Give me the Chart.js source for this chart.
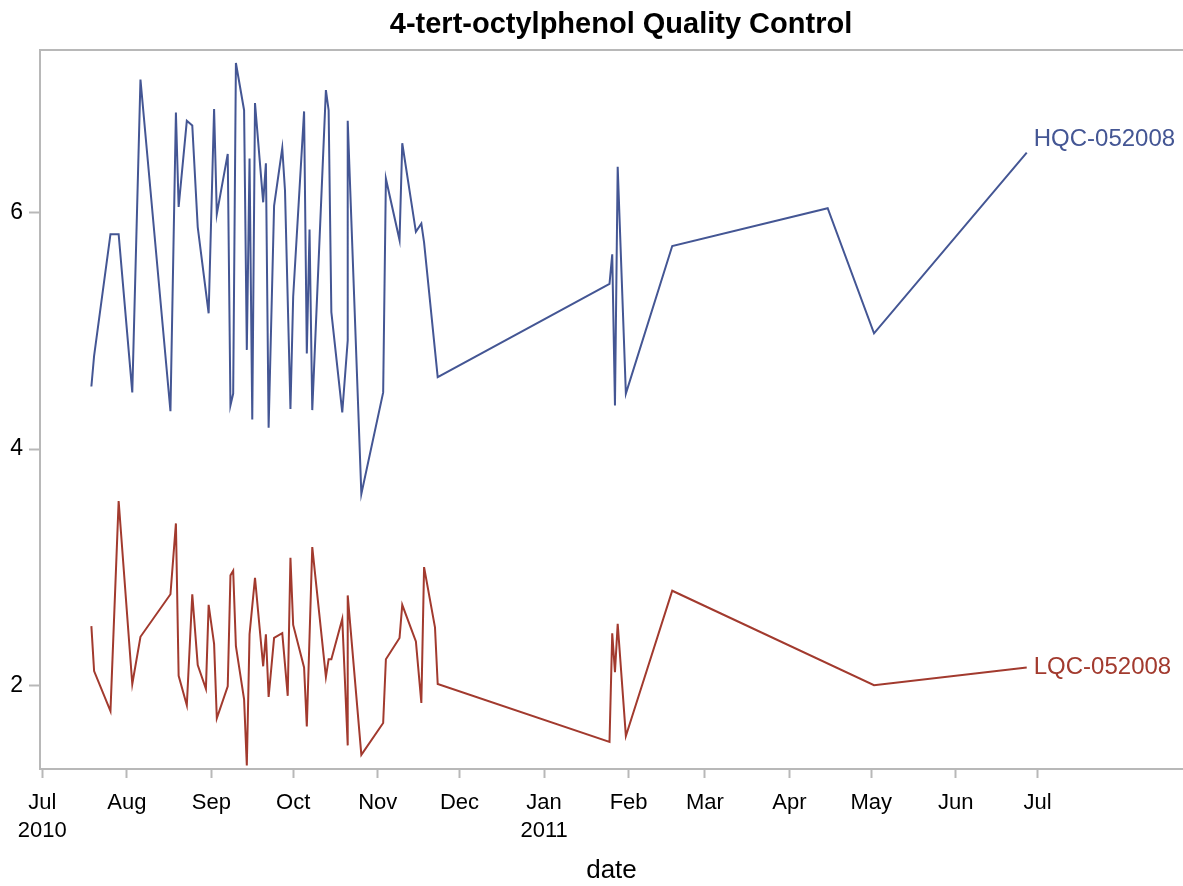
<!DOCTYPE html>
<html>
<head>
<meta charset="utf-8">
<script src="https://cdn.jsdelivr.net/npm/chart.js@4.4.0/dist/chart.umd.min.js"></script>
<style>
  html, body { margin: 0; padding: 0; background: #fff; }
  #wrap { width: 1183px; height: 886px; }
</style>
</head>
<body>
<div id="wrap"><canvas id="qc"></canvas></div>
<script>
'use strict';

// --- data ---
const hqcDates = [
  '2010-07-19','2010-07-20','2010-07-26','2010-07-29','2010-08-03','2010-08-06','2010-08-17','2010-08-19',
  '2010-08-20','2010-08-23','2010-08-25','2010-08-27','2010-08-31','2010-09-02','2010-09-03','2010-09-07',
  '2010-09-08','2010-09-09','2010-09-10','2010-09-13','2010-09-14','2010-09-15','2010-09-16','2010-09-17',
  '2010-09-20','2010-09-21','2010-09-22','2010-09-24','2010-09-27','2010-09-28','2010-09-30','2010-10-01',
  '2010-10-05','2010-10-06','2010-10-07','2010-10-08','2010-10-13','2010-10-14','2010-10-15','2010-10-19',
  '2010-10-21','2010-10-21','2010-10-26','2010-11-03','2010-11-04','2010-11-09','2010-11-10','2010-11-15',
  '2010-11-17','2010-11-18','2010-11-23','2011-01-25','2011-01-26','2011-01-27','2011-01-28','2011-01-31',
  '2011-02-17','2011-04-15','2011-05-02','2011-06-27'
];
const hqcValues = [
  4.53, 4.79, 5.82, 5.82, 4.48, 7.13, 4.32, 6.85,
  6.05, 6.78, 6.74, 5.88, 5.15, 6.88, 5.99, 6.50,
  4.37, 4.47, 7.27, 6.87, 4.84, 6.46, 4.25, 6.93,
  6.09, 6.42, 4.18, 6.06, 6.55, 6.19, 4.34, 5.29,
  6.86, 4.81, 5.86, 4.33, 7.04, 6.87, 5.16, 4.31,
  4.92, 6.78, 3.62, 4.48, 6.29, 5.77, 6.59, 5.84,
  5.91, 5.75, 4.61, 5.40, 5.65, 4.37, 6.39, 4.47,
  5.72, 6.04, 4.98, 6.51
];

const lqcDates = [
  '2010-07-19','2010-07-20','2010-07-26','2010-07-29','2010-08-03','2010-08-06','2010-08-17','2010-08-19',
  '2010-08-20','2010-08-23','2010-08-25','2010-08-27','2010-08-30','2010-08-31','2010-09-02','2010-09-03',
  '2010-09-07','2010-09-08','2010-09-09','2010-09-10','2010-09-13','2010-09-14','2010-09-15','2010-09-17',
  '2010-09-20','2010-09-21','2010-09-22','2010-09-24','2010-09-27','2010-09-29','2010-09-30','2010-10-01',
  '2010-10-05','2010-10-06','2010-10-08','2010-10-13','2010-10-14','2010-10-15','2010-10-19','2010-10-21',
  '2010-10-21','2010-10-26','2010-11-03','2010-11-04','2010-11-09','2010-11-10','2010-11-15','2010-11-17',
  '2010-11-18','2010-11-22','2010-11-23','2011-01-25','2011-01-26','2011-01-27','2011-01-28','2011-01-31',
  '2011-02-17','2011-05-02','2011-06-27'
];
const lqcValues = [
  2.50, 2.12, 1.78, 3.56, 2.01, 2.41, 2.77, 3.37,
  2.08, 1.83, 2.77, 2.17, 1.97, 2.68, 2.35, 1.72,
  1.99, 2.93, 2.97, 2.33, 1.88, 1.32, 2.43, 2.91,
  2.16, 2.43, 1.90, 2.40, 2.44, 1.91, 3.08, 2.51,
  2.15, 1.65, 3.17, 2.07, 2.22, 2.22, 2.56, 1.49,
  2.76, 1.41, 1.68, 2.22, 2.40, 2.68, 2.37, 1.85,
  3.00, 2.49, 2.01, 1.52, 2.44, 2.11, 2.52, 1.57,
  2.80, 2.00, 2.15
];

const monthTicks = [
  '2010-07-01','2010-08-01','2010-09-01','2010-10-01','2010-11-01','2010-12-01','2011-01-01',
  '2011-02-01','2011-03-01','2011-04-01','2011-05-01','2011-06-01','2011-07-01'
];
const monthLabels = [
  ['Jul', '2010'], 'Aug', 'Sep', 'Oct', 'Nov', 'Dec', ['Jan', '2011'],
  'Feb', 'Mar', 'Apr', 'May', 'Jun', 'Jul'
];
const yTicks = [2, 4, 6];

const TITLE = '4-tert-octylphenol Quality Control';
const FONT = '"Liberation Sans", Arial, Helvetica, sans-serif';
const AXIS_GRAY = '#b8b8b8';

function toDay(s) {
  const [y, m, d] = s.split('-').map(Number);
  return Date.UTC(y, m - 1, d) / 86400000;
}

function points(dates, values) {
  return dates.map((d, i) => ({ x: toDay(d), y: values[i] }));
}

// curve labels at the end of each line
const endLabels = {
  id: 'endLabels',
  afterDatasetsDraw(chart) {
    const { ctx } = chart;
    const shifts = [-13, 0];
    chart.data.datasets.forEach((ds, i) => {
      const meta = chart.getDatasetMeta(i);
      const last = meta.data[meta.data.length - 1];
      ctx.save();
      ctx.font = '24px ' + FONT;
      ctx.fillStyle = ds.borderColor;
      ctx.textBaseline = 'middle';
      ctx.textAlign = 'left';
      ctx.fillText(ds.label, last.x + 7, last.y + shifts[i]);
      ctx.restore();
    });
  }
};

// top edge of the frame + the title (centred a bit right, like the original)
const frameAndTitle = {
  id: 'frameAndTitle',
  afterDraw(chart) {
    const { ctx, chartArea } = chart;
    ctx.save();
    ctx.strokeStyle = AXIS_GRAY;
    ctx.lineWidth = 2;
    ctx.beginPath();
    ctx.moveTo(chartArea.left - 1, chartArea.top);
    ctx.lineTo(chartArea.right, chartArea.top);
    ctx.stroke();

    ctx.font = 'bold 29px ' + FONT;
    ctx.fillStyle = '#000';
    ctx.textAlign = 'center';
    ctx.textBaseline = 'middle';
    ctx.fillText(TITLE, 621, 25);
    ctx.restore();
  }
};

new Chart(document.getElementById('qc'), {
  type: 'line',
  data: {
    datasets: [
      {
        label: 'HQC-052008', data: points(hqcDates, hqcValues),
        borderColor: '#445694', borderWidth: 2, pointRadius: 0, tension: 0, fill: false
      },
      {
        label: 'LQC-052008', data: points(lqcDates, lqcValues),
        borderColor: '#A23A2E', borderWidth: 2, pointRadius: 0, tension: 0, fill: false
      }
    ]
  },
  options: {
    responsive: true, maintainAspectRatio: false, animation: false,
    layout: { padding: { top: 50, left: 0, right: 0, bottom: 0 } },
    scales: {
      x: {
        type: 'linear',
        min: toDay('2010-07-01') - 0.84,
        max: toDay('2011-07-01') + 53.3,
        afterFit: s => { s.height = 117; },
        afterBuildTicks: s => { s.ticks = monthTicks.map(d => ({ value: toDay(d) })); },
        grid: { display: true, drawOnChartArea: false, drawTicks: true, tickLength: 9, tickWidth: 2, tickColor: AXIS_GRAY },
        border: { display: true, color: AXIS_GRAY, width: 2 },
        ticks: {
          autoSkip: false, maxRotation: 0, padding: 11, color: '#000',
          font: { family: FONT, size: 22, lineHeight: 1.27 },
          callback: (v, i) => monthLabels[i]
        },
        title: { display: true, text: 'date', color: '#000', padding: 0, font: { family: FONT, size: 26 } }
      },
      y: {
        min: 1.29, max: 7.38,
        afterFit: s => { s.width = 40; },
        afterBuildTicks: s => { s.ticks = yTicks.map(v => ({ value: v })); },
        grid: { display: true, drawOnChartArea: false, drawTicks: true, tickLength: 11, tickWidth: 2, tickColor: AXIS_GRAY },
        border: { display: true, color: AXIS_GRAY, width: 2 },
        ticks: { padding: 6, color: '#000', font: { family: FONT, size: 23 } }
      }
    },
    plugins: {
      legend: { display: false },
      tooltip: { enabled: false },
      title: { display: false }
    }
  },
  plugins: [endLabels, frameAndTitle]
});
</script>
</body>
</html>
